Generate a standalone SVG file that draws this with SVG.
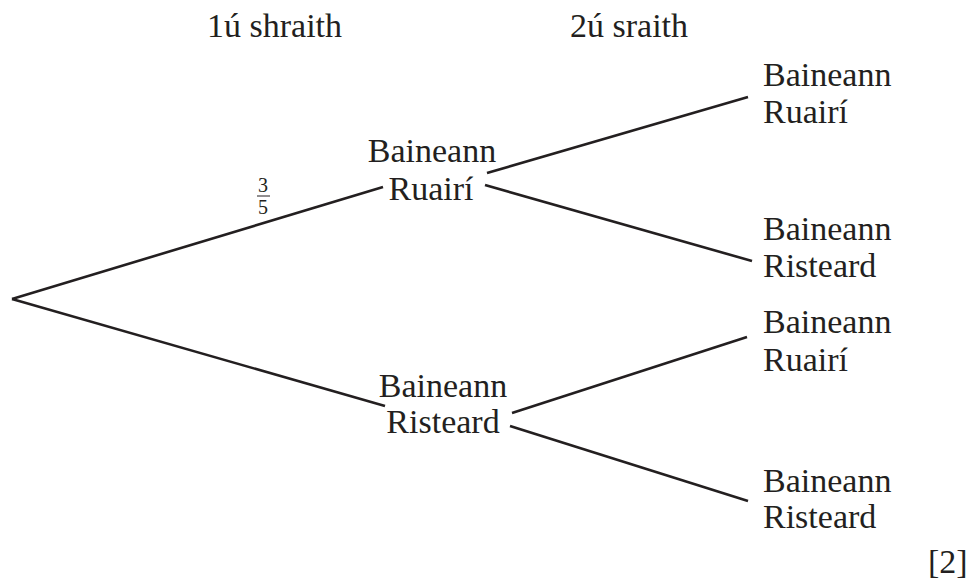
<svg xmlns="http://www.w3.org/2000/svg" width="968" height="581" viewBox="0 0 968 581">
<style>
text{font-family:"Liberation Serif","Times New Roman",serif;font-size:34px;fill:#231f20}
.m{text-anchor:middle}
.f{font-size:20px}
.c line{stroke:#231f20;stroke-width:2.6}
</style>
<rect width="968" height="581" fill="#fff"/>
<g id="headers">
<text x="207" y="37" font-family="Liberation Serif">1ú shraith</text>
<text x="570" y="37" font-family="Liberation Serif">2ú sraith</text>
</g>
<g id="connectors" class="c">
<line x1="12" y1="299" x2="383" y2="187"/>
<line x1="12" y1="299" x2="385" y2="406"/>
<line x1="487" y1="173" x2="748" y2="97"/>
<line x1="485" y1="185" x2="752" y2="261"/>
<line x1="512" y1="413" x2="747" y2="337"/>
<line x1="510" y1="426" x2="748" y2="501"/>
</g>
<g id="label-prob">
<text class="m f" x="263" y="192" font-family="Liberation Serif">3</text>
<line x1="257" y1="196" x2="270" y2="196" stroke="#231f20" stroke-width="1"/>
<text class="m f" x="263" y="214" font-family="Liberation Serif">5</text>
</g>
<g id="node-r1-ruairi">
<text class="m" x="432" y="162" font-family="Liberation Serif">Baineann</text>
<text class="m" x="431" y="200" font-family="Liberation Serif">Ruairí</text>
</g>
<g id="node-r1-risteard">
<text class="m" x="443" y="397" font-family="Liberation Serif">Baineann</text>
<text class="m" x="443" y="433" font-family="Liberation Serif">Risteard</text>
</g>
<g id="node-r2-a">
<text x="763" y="86" font-family="Liberation Serif">Baineann</text>
<text x="763" y="123" font-family="Liberation Serif">Ruairí</text>
</g>
<g id="node-r2-b">
<text x="763" y="240" font-family="Liberation Serif">Baineann</text>
<text x="763" y="277" font-family="Liberation Serif">Risteard</text>
</g>
<g id="node-r2-c">
<text x="763" y="333" font-family="Liberation Serif">Baineann</text>
<text x="763" y="371" font-family="Liberation Serif">Ruairí</text>
</g>
<g id="node-r2-d">
<text x="763" y="492" font-family="Liberation Serif">Baineann</text>
<text x="763" y="528" font-family="Liberation Serif">Risteard</text>
</g>
<g id="marks">
<text x="928" y="573" font-family="Liberation Serif">[2]</text>
</g>
</svg>
